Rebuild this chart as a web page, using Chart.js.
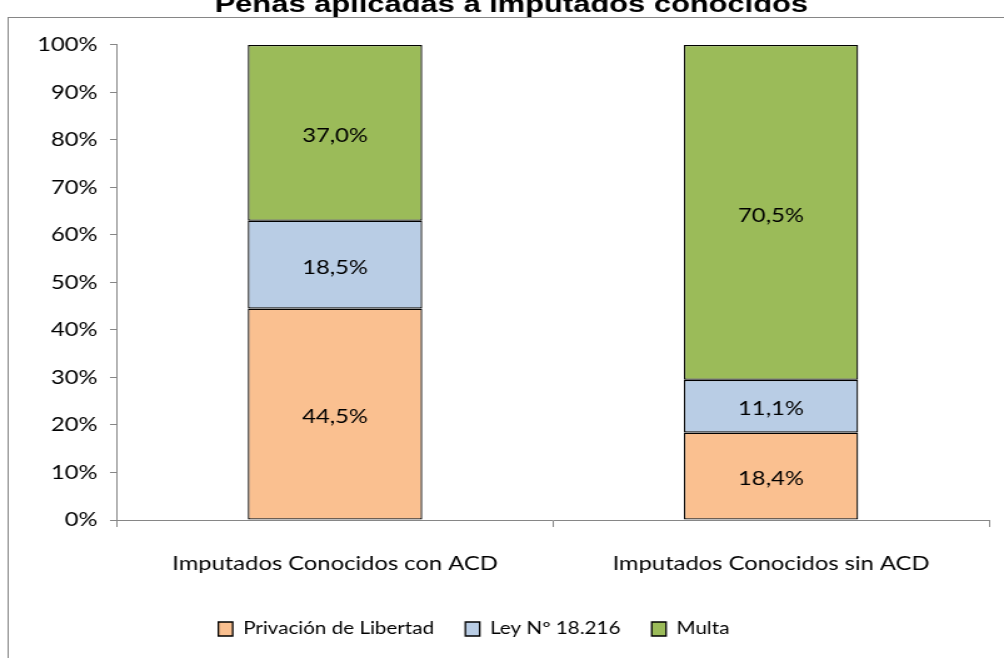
<!DOCTYPE html>
<html>
<head>
<meta charset="utf-8">
<title>Penas aplicadas a imputados conocidos</title>
<script src="https://cdn.jsdelivr.net/npm/chart.js@4.4.1/dist/chart.umd.min.js"></script>
<style>
  html, body { margin: 0; padding: 0; background: #fff; overflow: hidden; }
  /* the original picture is stretched sideways, so we draw narrow and stretch */
  #wrap {
    position: absolute; left: 0; top: 0;
    width: 803px; height: 658px;
    transform: scaleX(1.2503); transform-origin: 0 0;
  }
  canvas { display: block; }
</style>
</head>
<body>
<div id="wrap"><canvas id="penasChart" width="803" height="658"></canvas></div>
<script>
// Data
const categories = ['Imputados Conocidos con ACD', 'Imputados Conocidos sin ACD'];
const seriesNames = ['Privación de Libertad', 'Ley Nº 18.216', 'Multa'];
const privacionValues = [44.5, 18.4];
const leyValues = [18.5, 11.1];
const multaValues = [37.0, 70.5];
const yTickValues = [0, 10, 20, 30, 40, 50, 60, 70, 80, 90, 100];

const seriesColors = ['#FAC090', '#B9CDE5', '#9BBB59'];
const axisGray = '#868686';

Chart.defaults.font.family = 'Lato';
Chart.defaults.font.size = 19;
Chart.defaults.color = '#000';

// Draws the value inside each bar segment, with a decimal comma
const segmentLabels = {
    id: 'segmentLabels',
    afterDatasetsDraw(chart) {
        const ctx = chart.ctx;
        ctx.save();
        ctx.font = '19px Lato';
        ctx.fillStyle = '#000';
        ctx.textAlign = 'center';
        ctx.textBaseline = 'middle';
        chart.data.datasets.forEach((ds, i) => {
            const meta = chart.getDatasetMeta(i);
            meta.data.forEach((bar, j) => {
                const text = ds.data[j].toFixed(1).replace('.', ',') + '%';
                ctx.fillText(text, bar.x, (bar.y + bar.base) / 2 + 3);
            });
        });
        ctx.restore();
    }
};

// Gray frame round the plot; its white top edge hides the bottom of the title
const outerFrame = {
    id: 'outerFrame',
    beforeDatasetsDraw(chart) {
        const ctx = chart.ctx;
        ctx.save();
        ctx.fillStyle = '#fff';
        ctx.fillRect(7, 18, 800, 12);
        ctx.strokeStyle = axisGray;
        ctx.lineWidth = 1;
        ctx.strokeRect(6.5, 17.5, 1000, 1000);
        ctx.restore();
    }
};

// Title and legend are not centred on the canvas in the original
const nudgeBoxes = {
    id: 'nudgeBoxes',
    afterLayout(chart) {
        chart.titleBlock.left += 13.5;
        chart.titleBlock.right += 13.5;
        chart.legend.left -= 16.5;
        chart.legend.right -= 16.5;
    }
};

const ctx = document.getElementById('penasChart').getContext('2d');
const penasChart = new Chart(ctx, {
    type: 'bar',
    data: {
        labels: categories,
        datasets: [
            { label: seriesNames[0], data: privacionValues, backgroundColor: seriesColors[0] },
            { label: seriesNames[1], data: leyValues, backgroundColor: seriesColors[1] },
            { label: seriesNames[2], data: multaValues, backgroundColor: seriesColors[2] }
        ].map(ds => Object.assign(ds, {
            borderColor: '#000',
            borderWidth: 1.3,
            borderSkipped: false,
            categoryPercentage: 1,
            barPercentage: 0.4
        }))
    },
    options: {
        responsive: false,
        animation: false,
        events: [],
        layout: {
            padding: { left: 0, right: 12, top: 0, bottom: 10.75 }
        },
        plugins: {
            title: {
                display: true,
                text: 'Penas aplicadas a imputados conocidos',
                color: '#000',
                font: { family: 'Liberation Sans', size: 24.7, weight: 'bold', lineHeight: 1.2 },
                padding: { top: -9.6, bottom: 24.9 }
            },
            legend: {
                position: 'bottom',
                labels: {
                    color: '#000',
                    font: { size: 16.5 },
                    boxWidth: 11.5,
                    boxHeight: 14,
                    padding: 25
                }
            },
            tooltip: { enabled: false }
        },
        scales: {
            x: {
                stacked: true,
                grid: {
                    display: true,
                    drawOnChartArea: false,
                    drawTicks: true,
                    tickLength: 7,
                    offset: true,
                    color: axisGray
                },
                border: { display: true, color: axisGray, width: 1 },
                ticks: { padding: 25.6, maxRotation: 0, autoSkip: false, color: '#000' },
                afterFit(scale) { scale.height = 75.75; }
            },
            y: {
                stacked: true,
                min: 0,
                max: 100,
                afterBuildTicks(scale) {
                    scale.ticks = yTickValues.map(v => ({ value: v }));
                },
                grid: {
                    display: true,
                    drawOnChartArea: false,
                    drawTicks: true,
                    tickLength: 5.6,
                    color: axisGray
                },
                border: { display: true, color: axisGray, width: 1 },
                ticks: {
                    padding: 10,
                    color: '#000',
                    callback: (v) => v + '%'
                },
                afterFit(scale) { scale.width = 93.6; }
            }
        }
    },
    plugins: [outerFrame, nudgeBoxes, segmentLabels]
});
</script>
</body>
</html>
